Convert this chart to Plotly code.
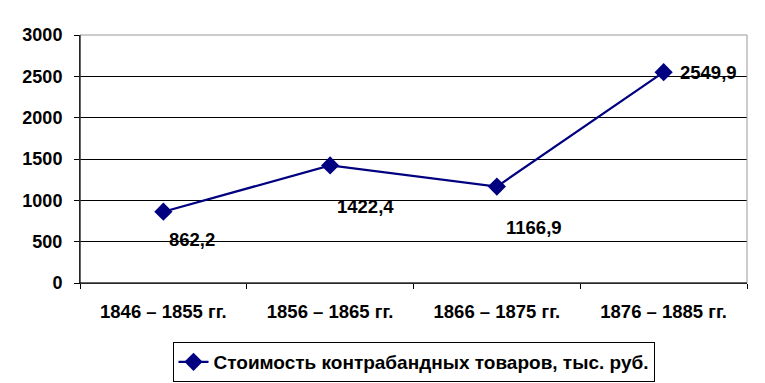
import plotly.graph_objects as go

categories = ["1846 – 1855 гг.", "1856 – 1865 гг.", "1866 – 1875 гг.", "1876 – 1885 гг."]
values = [862.2, 1422.4, 1166.9, 2549.9]
value_labels = ["862,2", "1422,4", "1166,9", "2549,9"]
series_name = "Стоимость контрабандных товаров, тыс. руб."
y_ticks = [0, 500, 1000, 1500, 2000, 2500, 3000]

FONT = "Liberation Sans, Arial, sans-serif"
NAVY = "#000080"

fig = go.Figure()
fig.add_trace(go.Scatter(
    x=categories, y=values, mode="lines+markers", name="<b>%s</b>" % series_name,
    line=dict(color=NAVY, width=2.2),
    marker=dict(symbol="diamond", size=14, color=NAVY),
))

shifts = [(29, -28), (35, -41), (37, -41), (45, 0)]
for c, v, t, (dx, dy) in zip(categories, values, value_labels, shifts):
    fig.add_annotation(x=c, y=v, text="<b>%s</b>" % t, showarrow=False,
                       xshift=dx, yshift=dy,
                       font=dict(family=FONT, size=18.5, color="black"))

fig.add_shape(type="rect", xref="paper", yref="paper", x0=0, x1=1, y0=0, y1=1,
              line=dict(color="#999999", width=1), layer="above")
fig.add_shape(type="line", xref="paper", yref="paper", x0=0, x1=0, y0=0, y1=1,
              line=dict(color="black", width=1), layer="above")
fig.add_shape(type="line", xref="paper", yref="paper", x0=0, x1=1, y0=0, y1=0,
              line=dict(color="black", width=1), layer="above")

fig.update_layout(
    width=757, height=375,
    margin=dict(l=72, r=18, t=27, b=100, autoexpand=False),
    paper_bgcolor="white", plot_bgcolor="white",
    font=dict(family=FONT, size=18, color="black"),
    showlegend=True,
    legend=dict(orientation="h", x=0.5, xanchor="center", y=-0.238, yanchor="top",
                bordercolor="black", borderwidth=1,
                font=dict(family=FONT, size=19, color="black")),
    xaxis=dict(type="category", range=[-0.5, 3.5], showgrid=False, automargin=False,
               showline=True, linecolor="black", linewidth=1,
               ticks="outside", tickson="boundaries", ticklen=5, tickcolor="black",
               ticklabelstandoff=12,
               tickfont=dict(family=FONT, size=18.5, color="black"),
               tickvals=categories, ticktext=["<b>%s</b>" % c for c in categories]),
    yaxis=dict(range=[0, 3000], tickvals=y_ticks, automargin=False,
               ticktext=["<b>%d</b>" % t for t in y_ticks],
               showgrid=True, gridcolor="black", gridwidth=1,
               showline=True, linecolor="black", linewidth=1,
               ticks="outside", ticklen=5, tickcolor="black",
               ticklabelstandoff=8,
               zeroline=False,
               tickfont=dict(family=FONT, size=18, color="black")),
)

fig.write_html("out.html")
